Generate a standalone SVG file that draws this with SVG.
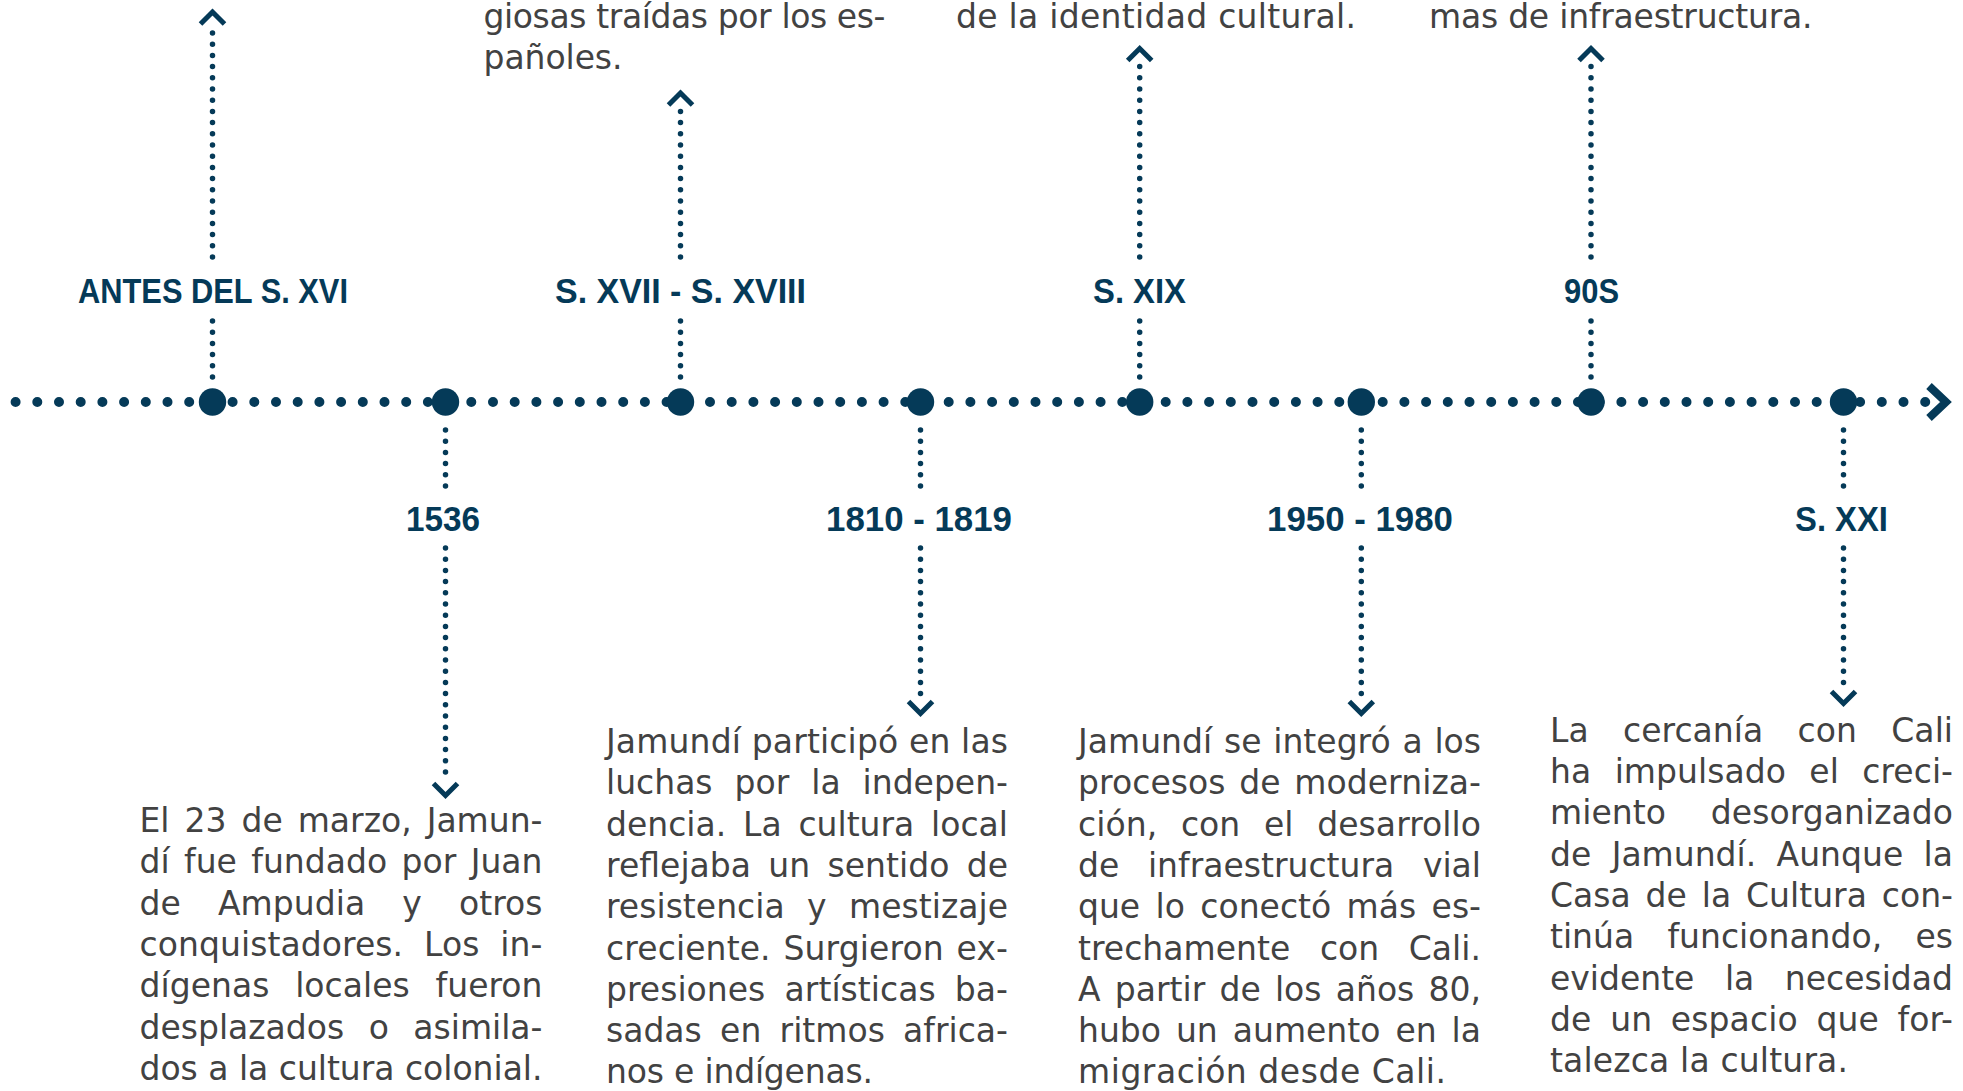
<svg xmlns="http://www.w3.org/2000/svg" width="1963" height="1091" viewBox="0 0 1963 1091">
<style>
.axis{fill:none;stroke:#053a58;stroke-width:10;stroke-linecap:round;stroke-dasharray:0 21.7}
.conn{fill:none;stroke:#053a58;stroke-width:5.5;stroke-linecap:round;stroke-dasharray:0 11.2}
.head{fill:none;stroke:#053a58;stroke-width:5;stroke-linejoin:miter;stroke-linecap:butt}
.tip{fill:none;stroke:#053a58;stroke-width:8;stroke-linejoin:miter}
.dot{fill:#053a58}
.lbl{font-family:"Liberation Sans",Arial,sans-serif;font-weight:bold;font-size:35px;fill:#053a58}
.body{font-family:"DejaVu Sans","Liberation Sans",sans-serif;font-size:33px;fill:#424242}
</style>
<rect width="1963" height="1091" fill="#ffffff"/>

<g id="timeline">
<path class="axis" d="M15.6 402 H1926"/>
<path class="tip" d="M1929 386 L1946 402 L1929 418"/>
</g>

<g id="connectors">
<path class="conn" d="M212.5 377 V321"/>
<path class="conn" d="M212.5 257 V25"/>
<path class="head" d="M200.5 24 L212.5 12 L224.5 24"/>

<path class="conn" d="M680.5 377 V321"/>
<path class="conn" d="M680.5 257 V108"/>
<path class="head" d="M668.5 105 L680.5 93 L692.5 105"/>

<path class="conn" d="M1139.7 377 V321"/>
<path class="conn" d="M1139.7 257 V63"/>
<path class="head" d="M1127.7 60.5 L1139.7 48.5 L1151.7 60.5"/>

<path class="conn" d="M1591 377 V321"/>
<path class="conn" d="M1591 257 V63"/>
<path class="head" d="M1579 60.5 L1591 48.5 L1603 60.5"/>

<path class="conn" d="M445.5 430 V486"/>
<path class="conn" d="M445.5 548 V778"/>
<path class="head" d="M433.5 783.5 L445.5 795.5 L457.5 783.5"/>

<path class="conn" d="M920.5 430 V486"/>
<path class="conn" d="M920.5 548 V697"/>
<path class="head" d="M908.5 701.5 L920.5 713.5 L932.5 701.5"/>

<path class="conn" d="M1361.3 430 V497"/>
<path class="conn" d="M1361.3 548 V697"/>
<path class="head" d="M1349.3 701.5 L1361.3 713.5 L1373.3 701.5"/>

<path class="conn" d="M1843.5 430 V497"/>
<path class="conn" d="M1843.5 548 V686"/>
<path class="head" d="M1831.5 691.5 L1843.5 703.5 L1855.5 691.5"/>
</g>

<g id="node-antes">
<circle class="dot" cx="212.5" cy="402" r="13.7"/>
<text class="lbl" x="78" y="303" textLength="270" lengthAdjust="spacingAndGlyphs">ANTES DEL S. XVI</text>
</g>

<g id="node-1536">
<circle class="dot" cx="445.5" cy="402" r="13.7"/>
<text class="lbl" x="406" y="531" textLength="74" lengthAdjust="spacingAndGlyphs">1536</text>
<g class="body">
<text x="139.5" y="832" word-spacing="4.5" textLength="403" lengthAdjust="spacing">El 23 de marzo, Jamun-</text>
<text x="139.5" y="873.3" word-spacing="3.9" textLength="403" lengthAdjust="spacing">dí fue fundado por Juan</text>
<text x="139.5" y="914.6" word-spacing="26.6" textLength="403" lengthAdjust="spacing">de Ampudia y otros</text>
<text x="139.5" y="955.9" word-spacing="10.4" textLength="403" lengthAdjust="spacing">conquistadores. Los in-</text>
<text x="139.5" y="997.2" word-spacing="15.2" textLength="403" lengthAdjust="spacing">dígenas locales fueron</text>
<text x="139.5" y="1038.5" word-spacing="14" textLength="403" lengthAdjust="spacing">desplazados o asimila-</text>
<text x="139.5" y="1079.8" textLength="403" lengthAdjust="spacing">dos a la cultura colonial.</text>
</g>
</g>

<g id="node-s17-s18">
<circle class="dot" cx="680.5" cy="402" r="13.7"/>
<text class="lbl" x="555" y="303" textLength="251" lengthAdjust="spacingAndGlyphs">S. XVII - S. XVIII</text>
<g class="body">
<text x="483.5" y="27.5" textLength="402" lengthAdjust="spacing">giosas traídas por los es-</text>
<text x="483.5" y="68.8" textLength="139" lengthAdjust="spacing">pañoles.</text>
</g>
</g>

<g id="node-1810-1819">
<circle class="dot" cx="920.5" cy="402" r="13.7"/>
<text class="lbl" x="826" y="531" textLength="186" lengthAdjust="spacingAndGlyphs">1810 - 1819</text>
<g class="body">
<text x="606" y="753" textLength="402" lengthAdjust="spacing">Jamundí participó en las</text>
<text x="606" y="794.3" word-spacing="11.5" textLength="402" lengthAdjust="spacing">luchas por la indepen-</text>
<text x="606" y="835.6" word-spacing="6.3" textLength="402" lengthAdjust="spacing">dencia. La cultura local</text>
<text x="606" y="876.9" word-spacing="6.7" textLength="402" lengthAdjust="spacing">reflejaba un sentido de</text>
<text x="606" y="918.2" word-spacing="11.8" textLength="402" lengthAdjust="spacing">resistencia y mestizaje</text>
<text x="606" y="959.5" word-spacing="2.2" textLength="402" lengthAdjust="spacing">creciente. Surgieron ex-</text>
<text x="606" y="1000.8" word-spacing="8.7" textLength="402" lengthAdjust="spacing">presiones artísticas ba-</text>
<text x="606" y="1042.1" word-spacing="7.8" textLength="402" lengthAdjust="spacing">sadas en ritmos africa-</text>
<text x="606" y="1083.4" textLength="267" lengthAdjust="spacing">nos e indígenas.</text>
</g>
</g>

<g id="node-s19">
<circle class="dot" cx="1139.7" cy="402" r="13.7"/>
<text class="lbl" x="1093" y="303" textLength="93" lengthAdjust="spacingAndGlyphs">S. XIX</text>
<g class="body">
<text x="956" y="27.5" textLength="400" lengthAdjust="spacing">de la identidad cultural.</text>
</g>
</g>

<g id="node-1950-1980">
<circle class="dot" cx="1361.3" cy="402" r="13.7"/>
<text class="lbl" x="1267" y="531" textLength="186" lengthAdjust="spacingAndGlyphs">1950 - 1980</text>
<g class="body">
<text x="1078" y="753" word-spacing="1.2" textLength="403" lengthAdjust="spacing">Jamundí se integró a los</text>
<text x="1078" y="794.3" word-spacing="3.1" textLength="403" lengthAdjust="spacing">procesos de moderniza-</text>
<text x="1078" y="835.6" word-spacing="13.1" textLength="403" lengthAdjust="spacing">ción, con el desarrollo</text>
<text x="1078" y="876.9" word-spacing="18.2" textLength="403" lengthAdjust="spacing">de infraestructura vial</text>
<text x="1078" y="918.2" word-spacing="4.9" textLength="403" lengthAdjust="spacing">que lo conectó más es-</text>
<text x="1078" y="959.5" word-spacing="19" textLength="403" lengthAdjust="spacing">trechamente con Cali.</text>
<text x="1078" y="1000.8" word-spacing="3.7" textLength="403" lengthAdjust="spacing">A partir de los años 80,</text>
<text x="1078" y="1042.1" word-spacing="4.5" textLength="403" lengthAdjust="spacing">hubo un aumento en la</text>
<text x="1078" y="1083.4" textLength="368" lengthAdjust="spacing">migración desde Cali.</text>
</g>
</g>

<g id="node-90s">
<circle class="dot" cx="1591" cy="402" r="13.7"/>
<text class="lbl" x="1564" y="303" textLength="55" lengthAdjust="spacingAndGlyphs">90S</text>
<g class="body">
<text x="1429" y="27.5" textLength="383.5" lengthAdjust="spacing">mas de infraestructura.</text>
</g>
</g>

<g id="node-s21">
<circle class="dot" cx="1843.5" cy="402" r="13.7"/>
<text class="lbl" x="1795" y="531" textLength="93" lengthAdjust="spacingAndGlyphs">S. XXI</text>
<g class="body">
<text x="1550" y="741.7" word-spacing="23.8" textLength="403" lengthAdjust="spacing">La cercanía con Cali</text>
<text x="1550" y="783" word-spacing="12.9" textLength="403" lengthAdjust="spacing">ha impulsado el creci-</text>
<text x="1550" y="824.3" word-spacing="34.3" textLength="403" lengthAdjust="spacing">miento desorganizado</text>
<text x="1550" y="865.6" word-spacing="9.9" textLength="403" lengthAdjust="spacing">de Jamundí. Aunque la</text>
<text x="1550" y="906.9" word-spacing="4.4" textLength="403" lengthAdjust="spacing">Casa de la Cultura con-</text>
<text x="1550" y="948.2" word-spacing="22.8" textLength="403" lengthAdjust="spacing">tinúa funcionando, es</text>
<text x="1550" y="989.5" word-spacing="20" textLength="403" lengthAdjust="spacing">evidente la necesidad</text>
<text x="1550" y="1030.8" word-spacing="8.1" textLength="403" lengthAdjust="spacing">de un espacio que for-</text>
<text x="1550" y="1072.1" textLength="298" lengthAdjust="spacing">talezca la cultura.</text>
</g>
</g>
</svg>
